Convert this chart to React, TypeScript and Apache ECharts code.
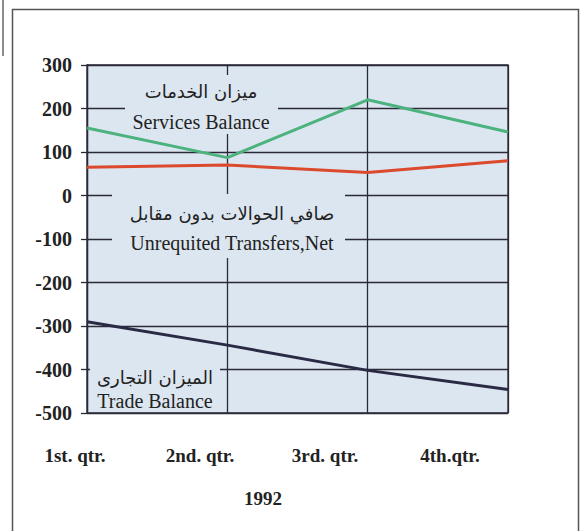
import React, { useEffect, useRef } from "react";
import * as echarts from "echarts";

const quarters = ["1st. qtr.", "2nd. qtr.", "3rd. qtr.", "4th.qtr."];
const servicesBalance = [155, 87, 220, 146];
const unrequitedTransfers = [65, 70, 53, 80];
const tradeBalance = [-290, -344, -402, -446];
const yearLabel = "1992";

const PLOT_BG = "#dce6f0";
const LINE_DARK = "#2a2a36";
const TEXT = "#222222";
const SERIF = "'Liberation Serif', 'Times New Roman', serif";
const ARABIC = "'DejaVu Sans', 'Noto Sans', sans-serif";

function labelBox(
  x: number, y: number, w: number, h: number,
  ar: string, arY: number, en: string, enY: number, cx: number
) {
  return {
    type: "group",
    z: 1,
    children: [
      { type: "rect", shape: { x, y, width: w, height: h }, style: { fill: PLOT_BG }, z: 1 },
      {
        type: "text", x: cx, y: arY, z: 1,
        style: { text: ar, fontFamily: ARABIC, fontSize: 18, fill: TEXT, align: "center", verticalAlign: "middle" },
      },
      {
        type: "text", x: cx, y: enY, z: 1,
        style: { text: en, fontFamily: SERIF, fontSize: 20, fill: TEXT, align: "center", verticalAlign: "middle" },
      },
    ],
  };
}

export default function App() {
  const ref = useRef<HTMLDivElement>(null);
  useEffect(() => {
    if (!ref.current) return;
    const chart = echarts.init(ref.current, undefined, { renderer: "svg" });
    chart.setOption({
      animation: false,
      backgroundColor: "#ffffff",
      grid: [
        { left: 87, right: 77, top: 65, bottom: 118, show: true, backgroundColor: PLOT_BG, borderColor: LINE_DARK, borderWidth: 1.3 },
        { left: 75, right: 135, top: 440, height: 1 },
      ],
      xAxis: [
        {
          type: "category", gridIndex: 0, data: quarters, boundaryGap: false,
          axisLine: { show: false }, axisTick: { show: false }, axisLabel: { show: false },
          splitLine: { show: true, lineStyle: { color: LINE_DARK, width: 1.3 } },
        },
        {
          type: "category", gridIndex: 1, data: quarters, boundaryGap: false,
          axisLine: { show: false }, axisTick: { show: false }, splitLine: { show: false },
          axisLabel: { show: true, margin: 5, fontFamily: SERIF, fontWeight: "bold", fontSize: 19, color: TEXT },
        },
      ],
      yAxis: [
        {
          type: "value", gridIndex: 0, min: -500, max: 300, interval: 100,
          axisLine: { show: true, lineStyle: { color: LINE_DARK, width: 1.3 } },
          axisTick: { show: true, length: 6, lineStyle: { color: LINE_DARK, width: 1.3 } },
          axisLabel: { margin: 15, fontFamily: SERIF, fontWeight: "bold", fontSize: 20, color: TEXT },
          splitLine: { show: true, lineStyle: { color: LINE_DARK, width: 1.3 } },
        },
        { type: "value", gridIndex: 1, show: false },
      ],
      series: [
        {
          name: "Services Balance", type: "line", data: servicesBalance, symbol: "none",
          lineStyle: { color: "#4db37e", width: 3 }, z: 3,
        },
        {
          name: "Unrequited Transfers,Net", type: "line", data: unrequitedTransfers, symbol: "none",
          lineStyle: { color: "#dc4a2e", width: 3 }, z: 3,
        },
        {
          name: "Trade Balance", type: "line", data: tradeBalance, symbol: "none",
          lineStyle: { color: "#2b2a45", width: 3 }, z: 3,
        },
      ],
      graphic: [
        {
          type: "rect", z: 0, silent: true,
          shape: { x: 12.5, y: 9.5, width: 566, height: 530 },
          style: { fill: "none", stroke: "#555", lineWidth: 1.5 },
        },
        {
          type: "line", z: 0, silent: true,
          shape: { x1: 3, y1: 0, x2: 3, y2: 56 },
          style: { stroke: "#666", lineWidth: 1.5 },
        },
        labelBox(125, 75, 153, 59, "ميزان الخدمات", 91, "Services Balance", 122, 201),
        labelBox(112, 194, 233, 64, "صافي الحوالات بدون مقابل", 213, "Unrequited Transfers,Net", 243, 232),
        labelBox(90, 358, 130, 54, "الميزان التجارى", 377, "Trade Balance", 401, 155),
        {
          type: "text", x: 263, y: 498, z: 1,
          style: { text: yearLabel, fontFamily: SERIF, fontWeight: "bold", fontSize: 19, fill: TEXT, align: "center", verticalAlign: "middle" },
        },
      ],
    });
    return () => chart.dispose();
  }, []);
  return <div ref={ref} style={{ position: "fixed", left: 0, top: 0, width: 585, height: 531 }} />;
}
